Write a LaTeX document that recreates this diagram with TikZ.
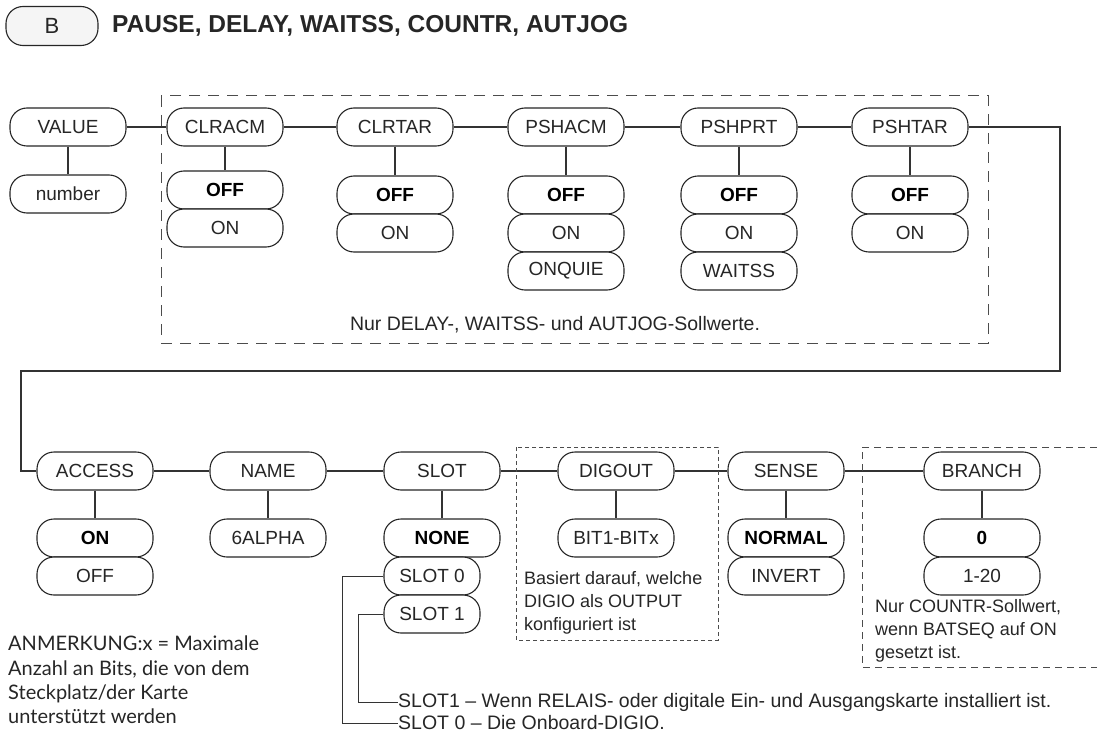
\documentclass[tikz,border=0pt]{standalone}
\usepackage{fontspec}
\setmainfont{Liberation Sans}
\newfontfamily\notefont{Lato}
\begin{document}
\begin{tikzpicture}[x=1pt,y=-1pt,
  line/.style={draw=black!80, line width=1.1pt},
  pill/.style={draw=black!85, line width=1.1pt, fill=white, rounded corners=17pt,
    minimum width=116pt, minimum height=38pt, inner sep=0pt, text=black!85,
    font=\fontsize{19}{19}\selectfont},
  bpill/.style={pill, font=\fontsize{19}{19}\selectfont\bfseries, text=black},
  note/.style={inner sep=0pt, font=\fontsize{18}{23}\selectfont, align=left, text=black!85},
  bigbox/.style={draw=black!70, line width=1pt, dash pattern=on 11pt off 8pt},
  smallbox/.style={draw=black!70, line width=0.9pt, dash pattern=on 4pt off 3pt},
  midbox/.style={draw=black!70, line width=0.9pt, dash pattern=on 7pt off 5pt}]
\useasboundingbox (0,0) rectangle (1097,738);
% header
\node[pill, minimum width=92pt, minimum height=39pt, fill=black!4, font=\fontsize{22}{22}\selectfont] (hb) at (52,26) {B};
\node[anchor=west, inner sep=0pt, font=\fontsize{24.5}{24.5}\selectfont\bfseries, text=black!85] (title) at (112,26) {PAUSE, DELAY, WAITSS, COUNTR, AUTJOG};
% dashed box top
\draw[bigbox] (161,96) rectangle (988,343);
\node[note, font=\fontsize{19.5}{20}\selectfont] (topnote) at (555,325) {Nur DELAY-, WAITSS- und AUTJOG-Sollwerte.};
% top row
\node[pill] (value) at (68,127) {VALUE};
\node[pill] (number) at (68,194) {number};
\node[pill] (clracm) at (225,127) {CLRACM};
\node[bpill] (clracmA) at (225,190) {OFF};
\node[pill] (clracmB) at (225,228) {ON};
\node[pill] (clrtar) at (395,127) {CLRTAR};
\node[bpill] (clrtarA) at (395,195) {OFF};
\node[pill] (clrtarB) at (395,233) {ON};
\node[pill] (pshacm) at (566,127) {PSHACM};
\node[bpill] (pshacmA) at (566,195) {OFF};
\node[pill] (pshacmB) at (566,233) {ON};
\node[pill] (pshacmC) at (566,271) {ONQUIE};
\node[pill] (pshprt) at (739,127) {PSHPRT};
\node[bpill] (pshprtA) at (739,195) {OFF};
\node[pill] (pshprtB) at (739,233) {ON};
\node[pill] (pshprtC) at (739,271) {WAITSS};
\node[pill] (pshtar) at (910,127) {PSHTAR};
\node[bpill] (pshtarA) at (910,195) {OFF};
\node[pill] (pshtarB) at (910,233) {ON};
\draw[line] (value.south) -- (number.north);
\draw[line] (clracm.south) -- (clracmA.north);
\draw[line] (clrtar.south) -- (clrtarA.north);
\draw[line] (pshacm.south) -- (pshacmA.north);
\draw[line] (pshprt.south) -- (pshprtA.north);
\draw[line] (pshtar.south) -- (pshtarA.north);
\draw[line] (value.east) -- (clracm.west);
\draw[line] (clracm.east) -- (clrtar.west);
\draw[line] (clrtar.east) -- (pshacm.west);
\draw[line] (pshacm.east) -- (pshprt.west);
\draw[line] (pshprt.east) -- (pshtar.west);
% second row
\node[pill] (access) at (95,471) {ACCESS};
\node[bpill] (accessA) at (95,538) {ON};
\node[pill] (accessB) at (95,576) {OFF};
\node[pill] (name) at (268,471) {NAME};
\node[pill] (nameA) at (268,538) {6ALPHA};
\node[pill] (slot) at (442,471) {SLOT};
\node[bpill] (slotA) at (442,538) {NONE};
\node[pill, minimum width=96pt] (slot0) at (432,576) {SLOT 0};
\node[pill, minimum width=96pt] (slot1) at (432,614) {SLOT 1};
\node[pill] (digout) at (616,471) {DIGOUT};
\node[pill] (digoutA) at (616,538) {BIT1-BITx};
\node[pill] (sense) at (786,471) {SENSE};
\node[bpill] (senseA) at (786,538) {NORMAL};
\node[pill] (senseB) at (786,576) {INVERT};
\node[pill] (branch) at (982,471) {BRANCH};
\node[bpill] (branchA) at (982,538) {0};
\node[pill] (branchB) at (982,576) {1-20};
\draw[line] (access.south) -- (accessA.north);
\draw[line] (name.south) -- (nameA.north);
\draw[line] (slot.south) -- (slotA.north);
\draw[line] (digout.south) -- (digoutA.north);
\draw[line] (sense.south) -- (senseA.north);
\draw[line] (branch.south) -- (branchA.north);
\draw[line] (access.east) -- (name.west);
\draw[line] (name.east) -- (slot.west);
\draw[line] (slot.east) -- (digout.west);
\draw[line] (digout.east) -- (sense.west);
\draw[line] (sense.east) -- (branch.west);
% long connector
\coordinate (r1) at (1060,127);
\coordinate (r2) at (1060,371);
\coordinate (l1) at (21,371);
\draw[line] (pshtar.east) -- (r1) -- (r2) -- (l1) |- (access.west);
% dashed boxes row 2
\draw[smallbox] (516,447) rectangle (718,640);
\draw[midbox] (1097,447) -- (862,447) -- (862,667) -- (1097,667);
\node[note, anchor=north west] (dignote) at (524,571) {Basiert darauf, welche\\DIGIO als OUTPUT\\konfiguriert ist};
\node[note, anchor=north west] (brnote) at (875,599) {Nur COUNTR-Sollwert,\\wenn BATSEQ auf ON\\gesetzt ist.};
% slot notes
\node[note, anchor=west, font=\fontsize{19.5}{20}\selectfont] (s1t) at (398,702) {SLOT1 – Wenn RELAIS- oder digitale Ein- und Ausgangskarte installiert ist.};
\node[note, anchor=west, font=\fontsize{19.5}{20}\selectfont] (s0t) at (398,723) {SLOT 0 – Die Onboard-DIGIO.};
\coordinate (s1c) at (358,702);
\coordinate (s0c) at (342,723);
\draw[line, line width=0.9pt] (slot1.west) -| (s1c) -- (s1t.west);
\draw[line, line width=0.9pt] (slot0.west) -| (s0c) -- (s0t.west);
% remark
\node[note, anchor=north west, font=\notefont\fontsize{20}{24.3}\selectfont] (anm) at (8,636) {ANMERKUNG:x = Maximale\\Anzahl an Bits, die von dem\\Steckplatz/der Karte\\unterstützt werden};
\end{tikzpicture}
\end{document}
